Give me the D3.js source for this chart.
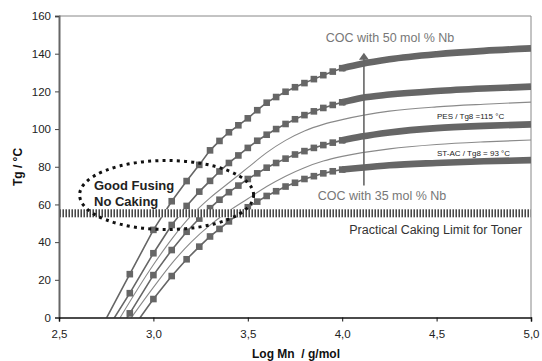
<!DOCTYPE html>
<html>
<head>
<meta charset="utf-8">
<script src="https://cdn.jsdelivr.net/npm/d3@7"></script>
<style>
body { margin: 0; background: #fff; }
text { font-family: "Liberation Sans", Arial, sans-serif; }
</style>
</head>
<body>
<div id="chart"></div>
<script>
'use strict'

// axes
var xTicks = [2.5, 3.0, 3.5, 4.0, 4.5, 5.0];
var yTicks = [0, 20, 40, 60, 80, 100, 120, 140, 160];

// COC curves, log Mn positions of the markers (below 0 gets clipped)
var markerX = [2.70, 2.875, 3.0, 3.097, 3.176, 3.243, 3.30, 3.35, 3.40, 3.45, 3.50,
    3.55, 3.60, 3.65, 3.70, 3.75, 3.80, 3.85, 3.90, 3.95, 4.0];
var cocA = [-10, 23, 46.5, 61.7, 72.4, 81, 88.7, 93.7, 98.3, 102, 105.7,
    110, 114, 117, 119.8, 122.2, 124.4, 126.5, 128.6, 130.5, 132.3];
var cocB = [-15, 12.9, 34.1, 49.1, 59.2, 66.8, 72.5, 77.5, 82, 86, 90,
    93.8, 97, 100, 102.7, 105.2, 107.4, 109.4, 111.2, 112.8, 114.2];
var cocC = [-26, 2.2, 22.5, 35.8, 45.5, 52.5, 58, 62.5, 66.5, 70, 73.5,
    76.5, 79.5, 82, 84.3, 86.5, 88.3, 90, 91.5, 92.8, 94];
var cocD = [-32, -7.7, 9.8, 22, 30.9, 37.6, 43, 47, 51, 55, 58.5,
    61.5, 64.5, 67, 69.5, 71.5, 73.5, 75, 76.5, 77.6, 78.5];

// dense part of the COC curves (markers merge into a band)
var bandX = [4.0, 4.1, 4.25, 4.5, 4.75, 5.0];
var bandA = [132.3, 134.5, 137, 139.7, 141.5, 142.8];
var bandB = [114.2, 116.5, 118.3, 120.2, 121.5, 122.5];
var bandC = [94, 96, 98.2, 100.5, 101.7, 102.5];
var bandD = [78.5, 79.5, 80.8, 82, 82.9, 83.5];

// reference resins
var thinX = [2.75, 3.0, 3.1, 3.2, 3.3, 3.4, 3.5, 3.6, 3.7, 3.8, 3.9, 4.0, 4.25, 4.5, 4.75, 5.0];
var pes = [-12.5, 28, 42, 54, 63.5, 71.5, 79.5, 87.5, 94, 99, 102.5, 105, 109.5, 111.8, 113.2, 114.3];
var stac = [-19, 16, 29, 40, 49, 56.5, 63, 69.5, 75, 79.5, 83, 85.5, 89.5, 91.8, 93.2, 94.2];

var cakingLimit = 55.3;
var arrowX = 4.115, arrowFrom = 70, arrowTo = 140;

var W = 542, H = 361;
var pl = 59, pr = 531, pt = 16, pb = 317.5;

var svg = d3.select("#chart").append("svg").attr("width", W).attr("height", H);

var x = d3.scaleLinear().domain([2.5, 5.0]).range([pl, pr]);
var y = d3.scaleLinear().domain([0, 160]).range([pb, pt]);

var defs = svg.append("defs");
defs.append("clipPath").attr("id", "plotClip")
    .append("rect").attr("x", pl).attr("y", pt).attr("width", pr - pl).attr("height", pb - pt);

var pat = defs.append("pattern").attr("id", "hatch").attr("patternUnits", "userSpaceOnUse")
    .attr("x", pl).attr("width", 3).attr("height", 10);
pat.append("rect").attr("width", 3).attr("height", 10).attr("fill", "#fff");
pat.append("rect").attr("x", 0.5).attr("width", 1.4).attr("height", 10).attr("fill", "#333");

// frame top / right
svg.append("line").attr("x1", pl).attr("x2", pr).attr("y1", pt).attr("y2", pt)
    .style("stroke", "#888").style("stroke-width", 1);
svg.append("line").attr("x1", pr).attr("x2", pr).attr("y1", pt).attr("y2", pb)
    .style("stroke", "#888").style("stroke-width", 1);

var plot = svg.append("g").attr("clip-path", "url(#plotClip)");

var zip = function(xs, ys) {
    return xs.map(function(v, i) { return [v, ys[i]]; });
};

var lineSmooth = d3.line().x(function(d) { return x(d[0]); }).y(function(d) { return y(d[1]); })
    .curve(d3.curveMonotoneX);
var lineStraight = d3.line().x(function(d) { return x(d[0]); }).y(function(d) { return y(d[1]); });

// thin lines
[pes, stac].forEach(function(s) {
    plot.append("path").attr("d", lineSmooth(zip(thinX, s)))
        .style("fill", "none").style("stroke", "#8a8a8a").style("stroke-width", 1.1);
});

// COC curves
var cocs = [[cocA, bandA], [cocB, bandB], [cocC, bandC], [cocD, bandD]];
cocs.forEach(function(c) {
    var pts = zip(markerX, c[0]);
    plot.append("path").attr("d", lineStraight(pts))
        .style("fill", "none").style("stroke", "#666").style("stroke-width", 1.6);
    plot.append("path").attr("d", lineSmooth(zip(bandX, c[1])))
        .style("fill", "none").style("stroke", "#666").style("stroke-width", 6.6);
    plot.selectAll(null).data(pts).enter().append("rect")
        .attr("x", function(d) { return x(d[0]) - 3.3; })
        .attr("y", function(d) { return y(d[1]) - 3.3; })
        .attr("width", 6.6).attr("height", 6.6)
        .style("fill", "#666");
});

// caking limit band
svg.append("rect").attr("x", pl + 1).attr("y", y(cakingLimit) - 4)
    .attr("width", pr - pl - 1).attr("height", 8).style("fill", "url(#hatch)");

// arrow
svg.append("line").attr("x1", x(arrowX)).attr("x2", x(arrowX))
    .attr("y1", y(arrowFrom)).attr("y2", y(arrowTo) + 4)
    .style("stroke", "#666").style("stroke-width", 1.6);
svg.append("path")
    .attr("d", "M" + (x(arrowX) - 5) + "," + (y(arrowTo) + 6) + "L" + x(arrowX) + "," + (y(arrowTo) - 1) +
        "L" + (x(arrowX) + 5) + "," + (y(arrowTo) + 6) + "Z")
    .style("fill", "#666");

// ellipse
svg.append("ellipse").attr("cx", x(3.07)).attr("cy", y(65)).attr("rx", 87).attr("ry", 34.5)
    .style("fill", "none").style("stroke", "#111").style("stroke-width", 3)
    .style("stroke-dasharray", "3,4.2");

// axes
var yAxis = svg.append("g").attr("transform", "translate(" + pl + ",0)")
    .call(d3.axisLeft(y).tickValues(yTicks).tickSize(4).tickPadding(4).tickFormat(d3.format("d")));
yAxis.select(".domain").style("stroke", "#666").style("stroke-width", 2);
yAxis.selectAll(".tick line").style("stroke", "#444");
yAxis.selectAll("text").style("font-size", "11.5px").style("fill", "#222");

var xAxis = svg.append("g").attr("transform", "translate(0," + pb + ")")
    .call(d3.axisBottom(x).tickValues(xTicks).tickSize(4).tickPadding(8)
        .tickFormat(function(d) { return d.toFixed(1).replace(".", ","); }));
xAxis.select(".domain").style("stroke", "#111").style("stroke-width", 1.5);
xAxis.selectAll(".tick line").style("stroke", "#111");
xAxis.selectAll("text").style("font-size", "11.5px").style("fill", "#222");

// titles
svg.append("text").attr("transform", "translate(22,167) rotate(-90)")
    .attr("text-anchor", "middle").style("font-size", "12px").style("font-weight", "bold")
    .style("fill", "#111").text("Tg / °C");
svg.append("text").attr("x", 296).attr("y", 358).attr("text-anchor", "middle")
    .style("font-size", "12px").style("font-weight", "bold").style("fill", "#111")
    .attr("xml:space", "preserve").text("Log Mn  / g/mol");

// annotations
var note = function(tx, ty, s, size, color, anchor, weight) {
    svg.append("text").attr("x", tx).attr("y", ty).attr("text-anchor", anchor || "start")
        .style("font-size", size + "px").style("fill", color).style("font-weight", weight || "normal")
        .text(s);
};
note(390, 42, "COC with 50 mol % Nb", 12.5, "#777", "middle");
note(382, 200, "COC with 35 mol % Nb", 12.5, "#777", "middle");
note(522, 234, "Practical Caking Limit for Toner", 12.5, "#333", "end");
note(437, 119, "PES / Tg8 =115 °C", 8, "#222");
note(437, 156, "ST-AC / Tg8 = 93 °C", 8, "#222");
note(94, 190, "Good Fusing", 13, "#222", "start", "bold");
note(94, 206, "No Caking", 13, "#222", "start", "bold");
</script>
</body>
</html>
